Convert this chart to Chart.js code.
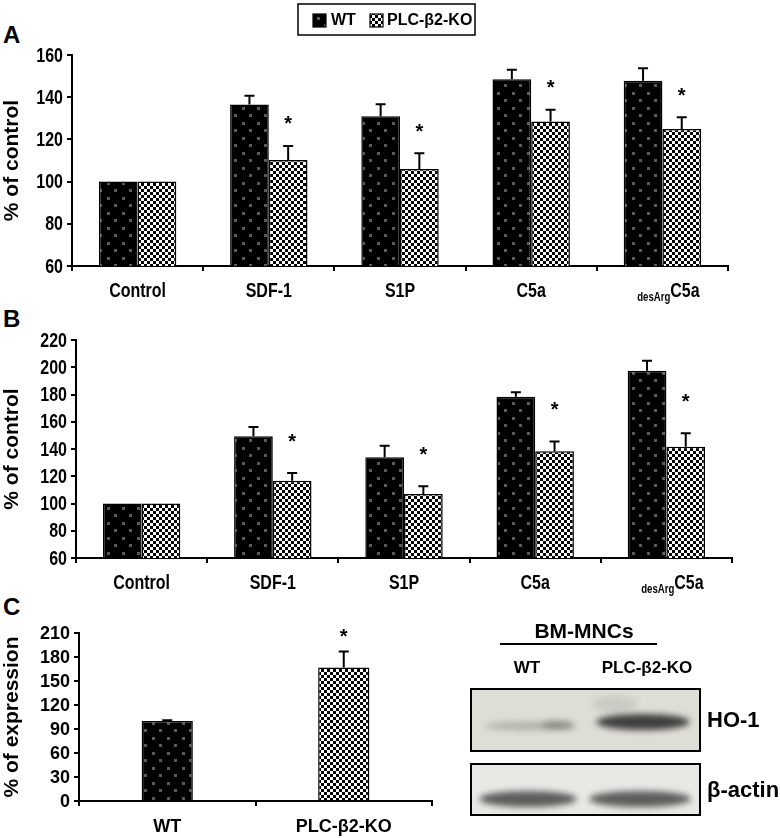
<!DOCTYPE html>
<html><head><meta charset="utf-8">
<script src="https://cdn.jsdelivr.net/npm/chart.js@4.4.0/dist/chart.umd.min.js"></script>
<style>
html,body{margin:0;padding:0;background:#fff;}
body{width:780px;height:838px;position:relative;overflow:hidden;}
canvas{position:absolute;}
.pl{position:absolute;font:bold 24px 'Liberation Sans',Arial,sans-serif;line-height:24px;color:#000;}
</style></head><body>
<div class="pl" style="left:3px;top:23px">A</div>
<div class="pl" style="left:3px;top:307px">B</div>
<div class="pl" style="left:3px;top:595px">C</div>
<canvas id="cA" width="780" height="310" style="left:0;top:0;width:780px;height:310px"></canvas>
<canvas id="cB" width="780" height="290" style="left:0;top:310px;width:780px;height:290px"></canvas>
<canvas id="cC" width="460" height="238" style="left:0;top:600px;width:460px;height:238px"></canvas>
<canvas id="cBlot" width="330" height="238" style="left:450px;top:600px;width:330px;height:238px"></canvas>
<script>
// ---------- data ----------
const categories = ['Control', 'SDF-1', 'S1P', 'C5a', 'desArgC5a'];
const subscriptPrefix = { 'desArgC5a': ['desArg', 'C5a'] };
const seriesNames = ['WT', 'PLC-\u03B22-KO'];

const wtA    = [100, 136.5, 131.0, 148.5, 147.8];
const wtAErr = [100, 140.7, 136.6, 153.0, 153.7];
const koA    = [100, 110.2, 106.0, 128.5, 124.9];
const koAErr = [100, 116.9, 113.4, 134.0, 130.5];
const starsA = [false, true, true, true, true];

const wtB    = [100, 149.4, 134.0, 178.4, 197.5];
const wtBErr = [100, 156.2, 142.3, 181.6, 204.8];
const koB    = [100, 116.7, 106.9, 138.4, 141.6];
const koBErr = [100, 122.3, 112.7, 145.5, 151.5];
const starsB = [false, true, true, true, true];

const categoriesC = ['WT', 'PLC-\u03B22-KO'];
const valuesC   = [100, 167];
const errC      = [101, 187];
const starsC    = [false, true];

const ticksA = { min: 60, max: 160, step: 20 };
const ticksB = { min: 60, max: 220, step: 20 };
const ticksC = { min: 0, max: 210, step: 30 };

// ---------- styles ----------
const SANS = "'Liberation Sans',Arial,sans-serif";

function makeWT(ctx){
  const c=document.createElement('canvas'); c.width=15; c.height=15;
  const g=c.getContext('2d'); g.fillStyle='#000'; g.fillRect(0,0,15,15);
  g.fillStyle='#5a5a5a'; g.fillRect(2,2,3,3); g.fillRect(9,9,3,3);
  return ctx.createPattern(c,'repeat');
}
function makeKO(ctx){
  const c=document.createElement('canvas'); c.width=6; c.height=6;
  const g=c.getContext('2d'); g.fillStyle='#fff'; g.fillRect(0,0,6,6);
  g.fillStyle='#000'; g.fillRect(0,0,3,3); g.fillRect(3,3,3,3);
  return ctx.createPattern(c,'repeat');
}

// draw text horizontally condensed by factor sx
function condText(ctx, text, x, y, align, sx){
  ctx.save();
  const w=ctx.measureText(text).width*sx;
  let left = align==='center' ? x-w/2 : (align==='right' ? x-w : x);
  ctx.translate(left, y); ctx.scale(sx,1);
  ctx.textAlign='left'; ctx.fillText(text,0,0);
  ctx.restore();
  return w;
}

const errPlugin = {
  id:'errbars',
  afterDatasetsDraw(chart, args, opts){
    const ctx=chart.ctx, ys=chart.scales.y;
    chart.data.datasets.forEach((ds,di)=>{
      const meta=chart.getDatasetMeta(di);
      ds.data.forEach((v,i)=>{
        const bar=meta.data[i]; const x=bar.x;
        const e=ds.errTop ? ds.errTop[i] : v;
        const y0=ys.getPixelForValue(v), y1=ys.getPixelForValue(e);
        ctx.save(); ctx.strokeStyle='#000'; ctx.lineWidth=2;
        if(e>v){
          ctx.beginPath(); ctx.moveTo(x,y0); ctx.lineTo(x,y1);
          ctx.moveTo(x-5,y1); ctx.lineTo(x+5,y1); ctx.stroke();
        }
        if(ds.stars && ds.stars[i]){
          ctx.fillStyle='#000'; ctx.font='bold 20px '+SANS;
          ctx.textAlign='center'; ctx.textBaseline='middle';
          ctx.fillText('*', x, y1-opts.starGap+5);
        }
        ctx.restore();
      });
    });
  }
};

const textPlugin = {
  id:'axtext',
  afterDraw(chart, args, opts){
    const ctx=chart.ctx, xs=chart.scales.x, ys=chart.scales.y;
    const sx=opts.sx;
    // y tick labels
    ctx.save(); ctx.fillStyle='#000'; ctx.textBaseline='middle';
    ctx.font='bold '+opts.tSize+'px '+SANS;
    ys.ticks.forEach(t=>{
      condText(ctx, String(t.value), chart.chartArea.left-9, ys.getPixelForValue(t.value)+1, 'right', sx);
    });
    ctx.restore();
    // x labels
    const y=chart.chartArea.bottom+opts.dy;
    chart.data.labels.forEach((lab,i)=>{
      const x=xs.getPixelForValue(i);
      ctx.save(); ctx.fillStyle='#000'; ctx.textBaseline='middle';
      const mainFont='bold '+opts.xSize+'px '+SANS;
      const subFont='bold '+Math.round(opts.xSize*0.6)+'px '+SANS;
      const parts=subscriptPrefix[lab];
      if(parts){
        ctx.font=subFont; const w1=ctx.measureText(parts[0]).width*sx;
        ctx.font=mainFont; const w2=ctx.measureText(parts[1]).width*sx;
        const start=x-(w1+w2)/2+6;
        ctx.font=subFont; condText(ctx, parts[0], start, y+7, 'left', sx);
        ctx.font=mainFont; condText(ctx, parts[1], start+w1, y, 'left', sx);
      } else {
        ctx.font=mainFont; condText(ctx, lab, x, y, 'center', sx);
      }
      ctx.restore();
    });
  }
};

const legendPlugin = {
  id:'boxlegend',
  afterDraw(chart, args, opts){
    if(!opts.show) return;
    const ctx=chart.ctx;
    ctx.save();
    ctx.strokeStyle='#000'; ctx.lineWidth=1.5;
    ctx.strokeRect(298,4,177,31);
    const ds=chart.data.datasets;
    const items=[{x:313,tx:331},{x:370,tx:387}];
    ds.forEach((d,i)=>{
      const it=items[i];
      ctx.fillStyle=d.backgroundColor; ctx.fillRect(it.x,14,13,13);
      ctx.strokeStyle='#000'; ctx.lineWidth=1.2; ctx.strokeRect(it.x,14,13,13);
      ctx.fillStyle='#000'; ctx.font='bold 16px '+SANS; ctx.textBaseline='middle'; ctx.textAlign='left';
      ctx.fillText(d.label, it.tx, 21);
    });
    ctx.restore();
  }
};

function barChart(id, labels, sets, t, cfg){
  const canvas=document.getElementById(id); const ctx=canvas.getContext('2d');
  const wt=makeWT(ctx), ko=makeKO(ctx);
  const datasets=sets.map(s=>({
    label:s.label, data:s.data, errTop:s.err, stars:s.stars,
    backgroundColor: s.bg==='wt'?wt:(s.bg==='ko'?ko:s.bg.map(b=>b==='wt'?wt:ko)),
    borderColor:'#000', borderWidth:1.5, borderSkipped:'bottom',
    barPercentage:1.0, categoryPercentage:cfg.catPct
  }));
  return new Chart(ctx,{
    type:'bar',
    data:{labels, datasets},
    options:{
      responsive:false, animation:false, devicePixelRatio:1,
      layout:{padding:{top:cfg.top, right:cfg.right, left:0, bottom:0}},
      plugins:{legend:{display:false}, tooltip:{enabled:false},
        errbars:{starGap:cfg.starGap},
        axtext:{dy:cfg.labelDy, xSize:cfg.xSize, tSize:cfg.tSize, sx:cfg.sx},
        boxlegend:{show:!!cfg.legend}},
      scales:{
        x:{
          afterFit:s=>{s.height=cfg.xHeight;},
          grid:{display:true, drawOnChartArea:false, drawTicks:true, tickLength:5, color:'#000', lineWidth:2, offset:true},
          border:{display:true, color:'#000', width:2},
          ticks:{display:false}
        },
        y:{
          min:t.min, max:t.max,
          afterFit:s=>{s.width=cfg.yWidth;},
          grid:{display:true, drawOnChartArea:false, drawTicks:true, tickLength:5, color:'#000', lineWidth:2},
          border:{display:true, color:'#000', width:2},
          ticks:{stepSize:t.step, autoSkip:false, color:'rgba(0,0,0,0)', padding:4, font:{family:SANS, size:12, weight:'bold'}},
          title:{display:true, text:cfg.yTitle, color:'#000', padding:{top:0,bottom:0}, font:{family:SANS, size:cfg.titleSize, weight:'bold'}}
        }
      }
    },
    plugins:[errPlugin, textPlugin, legendPlugin]
  });
}

barChart('cA', categories, [
  {label:seriesNames[0], data:wtA, err:wtAErr, bg:'wt'},
  {label:seriesNames[1], data:koA, err:koAErr, stars:starsA, bg:'ko'}
], ticksA, {top:55, right:52, xHeight:44, yWidth:72, catPct:0.59, starGap:26, labelDy:25, xSize:20, tSize:20, sx:0.8, yTitle:'% of control', titleSize:21, legend:true});

barChart('cB', categories, [
  {label:seriesNames[0], data:wtB, err:wtBErr, bg:'wt'},
  {label:seriesNames[1], data:koB, err:koBErr, stars:starsB, bg:'ko'}
], ticksB, {top:30, right:48, xHeight:42, yWidth:76, catPct:0.59, starGap:36, labelDy:25, xSize:20, tSize:20, sx:0.8, yTitle:'% of control', titleSize:21});

barChart('cC', categoriesC, [
  {label:'C', data:valuesC, err:errC, stars:starsC, bg:['wt','ko']}
], ticksC, {top:33, right:28, xHeight:37, yWidth:79, catPct:0.29, starGap:19, labelDy:26, xSize:18, tSize:18, sx:1.0, yTitle:'% of expression', titleSize:21});

// ---------- western blot illustration ----------
(function(){
  const ctx=document.getElementById('cBlot').getContext('2d');
  ctx.fillStyle='#000'; ctx.textAlign='center'; ctx.textBaseline='middle';
  ctx.font='bold 21px '+SANS; ctx.fillText('BM-MNCs',134,32);
  ctx.fillRect(50,43,157,2);
  ctx.font='bold 17px '+SANS; ctx.fillText('WT',77,68); ctx.fillText('PLC-\u03B22-KO',197,68);
  // top box
  ctx.fillStyle='#deddd6'; ctx.fillRect(21,89,229,62);
  ctx.save(); ctx.filter='blur(3px)';
  ctx.fillStyle='rgba(120,120,115,0.45)'; ctx.beginPath(); ctx.ellipse(80,126,46,4,0,0,Math.PI*2); ctx.fill();
  ctx.fillStyle='rgba(90,90,88,0.5)'; ctx.beginPath(); ctx.ellipse(108,125,16,4,0,0,Math.PI*2); ctx.fill();
  ctx.fillStyle='rgba(160,160,155,0.3)'; ctx.beginPath(); ctx.ellipse(165,104,22,8,0,0,Math.PI*2); ctx.fill();
  ctx.fillStyle='rgba(50,50,50,0.92)'; ctx.beginPath(); ctx.ellipse(193,122,47,8,0,0,Math.PI*2); ctx.fill();
  ctx.restore();
  ctx.strokeStyle='#000'; ctx.lineWidth=2; ctx.strokeRect(21,89,229,62);
  // bottom box
  ctx.fillStyle='#e8e8e4'; ctx.fillRect(21,164,229,51);
  ctx.save(); ctx.filter='blur(3px)';
  ctx.fillStyle='rgba(85,85,85,0.95)';
  ctx.beginPath(); ctx.ellipse(78,199,49,8,0,0,Math.PI*2); ctx.fill();
  ctx.beginPath(); ctx.ellipse(190,199,51,8,0,0,Math.PI*2); ctx.fill();
  ctx.restore();
  ctx.strokeStyle='#000'; ctx.lineWidth=2; ctx.strokeRect(21,164,229,51);
  ctx.fillStyle='#000'; ctx.textAlign='left'; ctx.font='bold 22px '+SANS;
  ctx.fillText('HO-1',257,121);
  ctx.fillText('\u03B2-actin',257,191);
})();
</script>
</body></html>
